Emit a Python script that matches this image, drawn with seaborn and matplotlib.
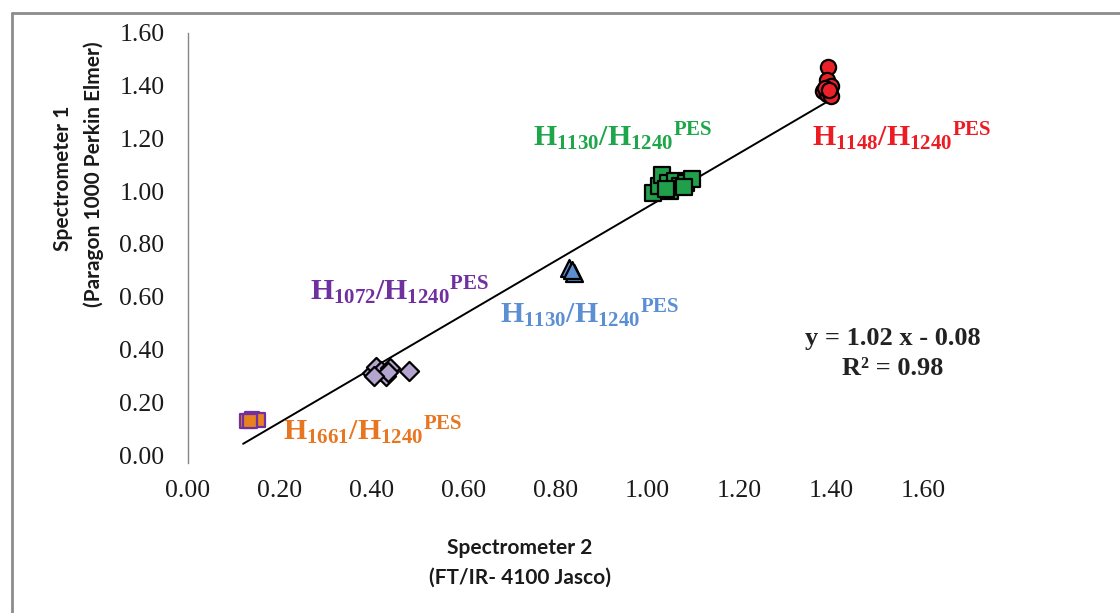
import matplotlib
matplotlib.use("Agg")
import matplotlib.pyplot as plt
import seaborn as sns
import numpy as np
import pandas as pd

# Band-ratio readings from the two spectrometers
h1661_x = [0.128, 0.140, 0.152, 0.135]
h1661_y = [0.130, 0.135, 0.132, 0.128]

h1072_x = [0.400, 0.410, 0.420, 0.430, 0.440, 0.435, 0.480, 0.405]
h1072_y = [0.310, 0.335, 0.320, 0.300, 0.330, 0.315, 0.320, 0.300]

h1130b_x = [0.830, 0.840, 0.835]
h1130b_y = [0.710, 0.690, 0.700]

h1130g_x = [1.012, 1.025, 1.032, 1.045, 1.050, 1.060, 1.070, 1.085, 1.097, 1.040, 1.080]
h1130g_y = [0.995, 1.020, 1.060, 1.030, 1.000, 1.040, 1.020, 1.030, 1.045, 1.010, 1.015]

h1148_x = [1.393, 1.390, 1.400, 1.382, 1.392, 1.400, 1.386, 1.396]
h1148_y = [1.470, 1.420, 1.400, 1.380, 1.370, 1.360, 1.390, 1.385]

# Linear fit reported on the chart
fit_slope = 1.02
fit_intercept = -0.08
fit_x_range = [0.12, 1.40]

tick_values = [0.0, 0.2, 0.4, 0.6, 0.8, 1.0, 1.2, 1.4, 1.6]
tick_labels = ["0.00", "0.20", "0.40", "0.60", "0.80", "1.00", "1.20", "1.40", "1.60"]

sns.set_style("white")
plt.rcParams["mathtext.fontset"] = "custom"
plt.rcParams["mathtext.rm"] = "Liberation Serif:bold"
plt.rcParams["mathtext.bf"] = "Liberation Serif:bold"
plt.rcParams["mathtext.it"] = "Liberation Serif:bold"

fig = plt.figure(figsize=(11.2, 6.13), dpi=100)
ax = fig.add_axes([188 / 1120, 1 - 455 / 613, (923 - 188) / 1120, (455 - 33) / 613])

# Regression line
fx = np.array(fit_x_range)
fit_df = pd.DataFrame({"x": fx, "y": fit_slope * fx + fit_intercept})
sns.lineplot(data=fit_df, x="x", y="y", color="black", linewidth=1.4, ax=ax, zorder=2)

groups = [
    (h1661_x, h1661_y, "s", "#E8821E", "#7030A0", 110),
    (h1072_x, h1072_y, "D", "#B4A5CF", "black", 95),
    (h1130b_x, h1130b_y, "^", "#5A8FD2", "black", 150),
    (h1130g_x, h1130g_y, "s", "#20A04A", "black", 140),
    (h1148_x, h1148_y, "o", "#EA2129", "black", 120),
]
for gx, gy, mk, fc, ec, size in groups:
    df = pd.DataFrame({"x": gx, "y": gy})
    sns.scatterplot(data=df, x="x", y="y", marker=mk, color=fc, edgecolor=ec,
                    linewidth=1.6, s=size, ax=ax, zorder=3, legend=False)

ax.set_xlim(0, 1.6)
ax.set_ylim(0, 1.6)
ax.set_xticks(tick_values)
ax.set_xticklabels(tick_labels)
ax.set_yticks(tick_values)
ax.set_yticklabels(tick_labels)
ax.set_xlabel("")
ax.set_ylabel("")

for side in ["top", "right", "bottom"]:
    ax.spines[side].set_visible(False)
ax.spines["left"].set_color("#868686")
ax.spines["left"].set_linewidth(1.0)
ax.spines["left"].set_bounds(-0.03, 1.6)
ax.tick_params(axis="both", which="both", direction="out", length=6, width=1.0,
               color="#9a9a9a", labelcolor="#1a1a1a", labelsize=18.5)
ax.tick_params(axis="x", pad=12)
ax.tick_params(axis="y", pad=11)
for lab in ax.get_xticklabels() + ax.get_yticklabels():
    lab.set_family("Liberation Serif")

# Series annotations
def band_label(x, y, num, color):
    ax.text(x, y, r"$H_{%s}/H_{1240}{}^{PES}$" % num, color=color, fontsize=21.5,
            ha="left", va="baseline", zorder=4)

band_label(0.207, 0.057, "1661", "#E8751F")
band_label(0.266, 0.588, "1072", "#7030A0")
band_label(0.679, 0.500, "1130", "#5B8FD3")
band_label(0.751, 1.172, "1130", "#1FA64A")
band_label(1.358, 1.172, "1148", "#EC1C24")

eq_kw = dict(family="Liberation Serif", fontweight="bold", fontsize=19,
             color="#222222", ha="center", va="baseline")
ax.text(1.535, 1.6 * (455 - 345) / 422, "y = 1.02 x - 0.08", **eq_kw)
ax.text(1.535, 1.6 * (455 - 375) / 422, "R² = 0.98", **eq_kw)

# Axis titles
lab_kw = dict(family="Lato", fontweight="bold", fontsize=15, color="#1a1a1a",
              ha="center", va="center")
fig.text(520 / 1120, 1 - 548 / 613, "Spectrometer 2", **lab_kw)
fig.text(520 / 1120, 1 - 578 / 613, "(FT/IR- 4100 Jasco)", **lab_kw)
fig.text(63 / 1120, 1 - 178 / 613, "Spectrometer 1", rotation=90, **lab_kw)
fig.text(94 / 1120, 1 - 174 / 613, "(Paragon 1000 Perkin Elmer)", rotation=90, **lab_kw)

# Outer frame lines
fig.add_artist(plt.Line2D([12 / 1120, 1.0], [1 - 13 / 613, 1 - 13 / 613],
                          transform=fig.transFigure, color="#8C8C8C", linewidth=2))
fig.add_artist(plt.Line2D([12 / 1120, 12 / 1120], [0.0, 1 - 13 / 613],
                          transform=fig.transFigure, color="#8C8C8C", linewidth=2))

fig.savefig("out.png", dpi=100, facecolor="white")
